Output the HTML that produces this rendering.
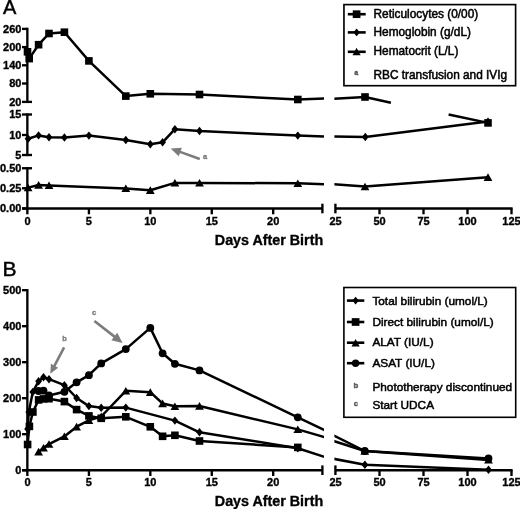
<!DOCTYPE html>
<html><head><meta charset="utf-8"><title>Figure</title>
<style>html,body{margin:0;padding:0;background:#fff}svg{display:block}svg text{font-family:"Liberation Sans",Arial,Helvetica,sans-serif}</style></head>
<body>
<svg width="520" height="509" viewBox="0 0 520 509">
<rect width="520" height="509" fill="#fff"/>
<defs><clipPath id="c1"><rect x="0" y="0" width="323.9" height="509"/></clipPath><clipPath id="c2"><rect x="334.4" y="0" width="190" height="509"/></clipPath><clipPath id="c3"><rect x="334.4" y="0" width="190" height="102.9"/></clipPath><clipPath id="c4"><rect x="334.4" y="113.9" width="190" height="100"/></clipPath><filter id="soft" x="0" y="0" width="520" height="509" filterUnits="userSpaceOnUse"><feGaussianBlur stdDeviation="0.4"/></filter></defs><g filter="url(#soft)">
<text x="2.90" y="13.85" font-size="20" font-weight="normal" text-anchor="start" fill="#000" stroke="#000" stroke-width="0.45">A</text>
<line x1="27.35" y1="27.70" x2="27.35" y2="103.00" stroke="#000" stroke-width="2.35"/>
<line x1="27.35" y1="113.40" x2="27.35" y2="156.10" stroke="#000" stroke-width="2.35"/>
<line x1="27.35" y1="167.10" x2="27.35" y2="209.60" stroke="#000" stroke-width="2.35"/>
<line x1="22.00" y1="28.90" x2="27.35" y2="28.90" stroke="#000" stroke-width="2.35"/>
<text x="21.40" y="32.70" font-size="11" font-weight="bold" text-anchor="end" fill="#000" stroke="#000" stroke-width="0.35">260</text>
<line x1="22.00" y1="47.10" x2="27.35" y2="47.10" stroke="#000" stroke-width="2.35"/>
<text x="21.40" y="50.90" font-size="11" font-weight="bold" text-anchor="end" fill="#000" stroke="#000" stroke-width="0.35">200</text>
<line x1="22.00" y1="65.30" x2="27.35" y2="65.30" stroke="#000" stroke-width="2.35"/>
<text x="21.40" y="69.10" font-size="11" font-weight="bold" text-anchor="end" fill="#000" stroke="#000" stroke-width="0.35">140</text>
<line x1="22.00" y1="83.50" x2="27.35" y2="83.50" stroke="#000" stroke-width="2.35"/>
<text x="21.40" y="87.30" font-size="11" font-weight="bold" text-anchor="end" fill="#000" stroke="#000" stroke-width="0.35">80</text>
<line x1="22.00" y1="101.90" x2="32.00" y2="101.90" stroke="#000" stroke-width="2.35"/>
<text x="21.40" y="105.70" font-size="11" font-weight="bold" text-anchor="end" fill="#000" stroke="#000" stroke-width="0.35">20</text>
<line x1="22.00" y1="114.50" x2="32.00" y2="114.50" stroke="#000" stroke-width="2.35"/>
<text x="21.40" y="118.30" font-size="11" font-weight="bold" text-anchor="end" fill="#000" stroke="#000" stroke-width="0.35">15</text>
<line x1="22.00" y1="135.00" x2="27.35" y2="135.00" stroke="#000" stroke-width="2.35"/>
<text x="21.40" y="138.80" font-size="11" font-weight="bold" text-anchor="end" fill="#000" stroke="#000" stroke-width="0.35">10</text>
<line x1="22.00" y1="155.00" x2="32.00" y2="155.00" stroke="#000" stroke-width="2.35"/>
<text x="21.40" y="158.80" font-size="11" font-weight="bold" text-anchor="end" fill="#000" stroke="#000" stroke-width="0.35">5</text>
<line x1="22.00" y1="168.25" x2="32.00" y2="168.25" stroke="#000" stroke-width="2.35"/>
<text x="21.40" y="172.05" font-size="11" font-weight="bold" text-anchor="end" fill="#000" stroke="#000" stroke-width="0.35">0.50</text>
<line x1="22.00" y1="188.25" x2="27.35" y2="188.25" stroke="#000" stroke-width="2.35"/>
<text x="21.40" y="192.05" font-size="11" font-weight="bold" text-anchor="end" fill="#000" stroke="#000" stroke-width="0.35">0.25</text>
<line x1="22.00" y1="208.50" x2="27.35" y2="208.50" stroke="#000" stroke-width="2.35"/>
<text x="21.40" y="212.30" font-size="11" font-weight="bold" text-anchor="end" fill="#000" stroke="#000" stroke-width="0.35">0.00</text>
<line x1="22.00" y1="208.50" x2="322.50" y2="208.50" stroke="#000" stroke-width="2.35"/><line x1="322.40" y1="203.70" x2="322.40" y2="213.30" stroke="#000" stroke-width="2.35"/><line x1="335.40" y1="203.70" x2="335.40" y2="213.30" stroke="#000" stroke-width="2.35"/><line x1="335.50" y1="208.50" x2="512.60" y2="208.50" stroke="#000" stroke-width="2.35"/><line x1="27.35" y1="208.50" x2="27.35" y2="214.30" stroke="#000" stroke-width="2.35"/><text x="27.50" y="224.90" font-size="11" font-weight="bold" text-anchor="middle" fill="#000" stroke="#000" stroke-width="0.35">0</text><line x1="88.92" y1="208.50" x2="88.92" y2="214.30" stroke="#000" stroke-width="2.35"/><text x="88.92" y="224.90" font-size="11" font-weight="bold" text-anchor="middle" fill="#000" stroke="#000" stroke-width="0.35">5</text><line x1="150.35" y1="208.50" x2="150.35" y2="214.30" stroke="#000" stroke-width="2.35"/><text x="150.35" y="224.90" font-size="11" font-weight="bold" text-anchor="middle" fill="#000" stroke="#000" stroke-width="0.35">10</text><line x1="211.78" y1="208.50" x2="211.78" y2="214.30" stroke="#000" stroke-width="2.35"/><text x="211.78" y="224.90" font-size="11" font-weight="bold" text-anchor="middle" fill="#000" stroke="#000" stroke-width="0.35">15</text><line x1="273.20" y1="208.50" x2="273.20" y2="214.30" stroke="#000" stroke-width="2.35"/><text x="273.20" y="224.90" font-size="11" font-weight="bold" text-anchor="middle" fill="#000" stroke="#000" stroke-width="0.35">20</text><text x="335.50" y="224.90" font-size="11" font-weight="bold" text-anchor="middle" fill="#000" stroke="#000" stroke-width="0.35">25</text><line x1="379.50" y1="208.50" x2="379.50" y2="214.30" stroke="#000" stroke-width="2.35"/><text x="379.50" y="224.90" font-size="11" font-weight="bold" text-anchor="middle" fill="#000" stroke="#000" stroke-width="0.35">50</text><line x1="423.50" y1="208.50" x2="423.50" y2="214.30" stroke="#000" stroke-width="2.35"/><text x="423.50" y="224.90" font-size="11" font-weight="bold" text-anchor="middle" fill="#000" stroke="#000" stroke-width="0.35">75</text><line x1="467.50" y1="208.50" x2="467.50" y2="214.30" stroke="#000" stroke-width="2.35"/><text x="467.50" y="224.90" font-size="11" font-weight="bold" text-anchor="middle" fill="#000" stroke="#000" stroke-width="0.35">100</text><line x1="511.50" y1="208.50" x2="511.50" y2="214.30" stroke="#000" stroke-width="2.35"/><text x="511.50" y="224.90" font-size="11" font-weight="bold" text-anchor="middle" fill="#000" stroke="#000" stroke-width="0.35">125</text><text x="269.00" y="244.50" font-size="14.3" font-weight="bold" text-anchor="middle" fill="#000" stroke="#000" stroke-width="0.35">Days After Birth</text>
<polyline clip-path="url(#c1)" fill="none" stroke="#000" stroke-width="2.5" stroke-linejoin="round" points="27.50,51.80 29.20,58.60 38.60,44.70 49.00,33.50 64.40,32.20 88.90,60.90 125.80,96.10 150.30,93.80 199.50,94.50 297.80,99.50 327.80,98.23"/>
<polyline clip-path="url(#c2)" fill="none" stroke="#000" stroke-width="2.5" stroke-linejoin="round" points="330.40,98.92 365.00,97.00 390.90,102.70"/>
<polyline fill="none" stroke="#000" stroke-width="2.5" stroke-linejoin="round" points="448.60,114.50 488.00,122.90"/>
<rect x="23.70" y="48.00" width="7.6" height="7.6"/>
<rect x="25.40" y="54.80" width="7.6" height="7.6"/>
<rect x="34.80" y="40.90" width="7.6" height="7.6"/>
<rect x="45.20" y="29.70" width="7.6" height="7.6"/>
<rect x="60.60" y="28.40" width="7.6" height="7.6"/>
<rect x="85.10" y="57.10" width="7.6" height="7.6"/>
<rect x="122.00" y="92.30" width="7.6" height="7.6"/>
<rect x="146.50" y="90.00" width="7.6" height="7.6"/>
<rect x="195.70" y="90.70" width="7.6" height="7.6"/>
<rect x="294.00" y="95.70" width="7.6" height="7.6"/>
<rect x="361.20" y="93.20" width="7.6" height="7.6"/>
<polyline clip-path="url(#c1)" fill="none" stroke="#000" stroke-width="2.5" stroke-linejoin="round" points="28.10,138.80 38.60,135.40 49.00,137.20 64.40,137.50 88.90,135.60 125.80,140.00 150.30,144.20 162.60,142.30 174.90,129.20 199.50,131.00 297.80,135.60 327.60,136.64"/>
<polyline clip-path="url(#c2)" fill="none" stroke="#000" stroke-width="2.5" stroke-linejoin="round" points="330.40,136.55 365.30,137.00 488.00,121.60"/>
<polygon points="28.10,134.60 31.50,138.80 28.10,143.00 24.70,138.80"/>
<polygon points="38.60,131.20 42.00,135.40 38.60,139.60 35.20,135.40"/>
<polygon points="49.00,133.00 52.40,137.20 49.00,141.40 45.60,137.20"/>
<polygon points="64.40,133.30 67.80,137.50 64.40,141.70 61.00,137.50"/>
<polygon points="88.90,131.40 92.30,135.60 88.90,139.80 85.50,135.60"/>
<polygon points="125.80,135.80 129.20,140.00 125.80,144.20 122.40,140.00"/>
<polygon points="150.30,140.00 153.70,144.20 150.30,148.40 146.90,144.20"/>
<polygon points="162.60,138.10 166.00,142.30 162.60,146.50 159.20,142.30"/>
<polygon points="174.90,125.00 178.30,129.20 174.90,133.40 171.50,129.20"/>
<polygon points="199.50,126.80 202.90,131.00 199.50,135.20 196.10,131.00"/>
<polygon points="297.80,131.40 301.20,135.60 297.80,139.80 294.40,135.60"/>
<polygon points="365.30,132.80 368.70,137.00 365.30,141.20 361.90,137.00"/>
<polygon points="488.00,117.40 491.40,121.60 488.00,125.80 484.60,121.60"/>
<rect x="484.20" y="119.10" width="7.6" height="7.6"/>
<polyline clip-path="url(#c1)" fill="none" stroke="#000" stroke-width="2.5" stroke-linejoin="round" points="28.10,187.60 38.60,185.00 49.00,185.40 125.80,188.40 150.30,190.20 174.90,182.90 199.50,182.90 297.80,183.30 327.60,184.34"/>
<polyline clip-path="url(#c2)" fill="none" stroke="#000" stroke-width="2.5" stroke-linejoin="round" points="330.40,183.89 365.00,186.60 488.00,177.20"/>
<polygon points="28.10,183.70 32.50,191.30 23.70,191.30"/>
<polygon points="38.60,181.10 43.00,188.70 34.20,188.70"/>
<polygon points="49.00,181.50 53.40,189.10 44.60,189.10"/>
<polygon points="125.80,184.50 130.20,192.10 121.40,192.10"/>
<polygon points="150.30,186.30 154.70,193.90 145.90,193.90"/>
<polygon points="174.90,179.00 179.30,186.60 170.50,186.60"/>
<polygon points="199.50,179.00 203.90,186.60 195.10,186.60"/>
<polygon points="297.80,179.40 302.20,187.00 293.40,187.00"/>
<polygon points="365.00,182.70 369.40,190.30 360.60,190.30"/>
<polygon points="488.00,173.30 492.40,180.90 483.60,180.90"/>
<line x1="199.80" y1="159.00" x2="179.35" y2="151.65" stroke="#7c7c7c" stroke-width="2.6"/><polygon fill="#7c7c7c" points="170.60,148.50 181.85,147.66 178.74,156.31"/>
<text x="205.20" y="159.20" font-size="7.5" font-weight="bold" text-anchor="middle" fill="#7c7c7c" stroke="#7c7c7c" stroke-width="0.35">a</text>
<rect x="343.95" y="4.6" width="171.65" height="81.1" fill="#fff" stroke="#000" stroke-width="1.65"/>
<line x1="347.80" y1="14.20" x2="365.70" y2="14.20" stroke="#000" stroke-width="2.6"/><rect x="352.75" y="10.35" width="7.7" height="7.7"/>
<line x1="347.80" y1="32.40" x2="365.70" y2="32.40" stroke="#000" stroke-width="2.6"/><polygon points="356.60,28.60 359.80,32.40 356.60,36.20 353.40,32.40"/>
<line x1="347.80" y1="51.80" x2="365.70" y2="51.80" stroke="#000" stroke-width="2.6"/><polygon points="356.60,47.80 360.70,55.30 352.50,55.30"/>
<text x="356.40" y="74.90" font-size="6.5" font-weight="bold" text-anchor="middle" fill="#5a5a5a" stroke="#5a5a5a" stroke-width="0.5">a</text>
<text x="373.50" y="17.90" font-size="11.85" font-weight="normal" text-anchor="start" fill="#000" stroke="#000" stroke-width="0.5">Reticulocytes (0/00)</text>
<text x="373.50" y="36.10" font-size="11.85" font-weight="normal" text-anchor="start" fill="#000" stroke="#000" stroke-width="0.5">Hemoglobin (g/dL)</text>
<text x="373.50" y="55.30" font-size="11.85" font-weight="normal" text-anchor="start" fill="#000" stroke="#000" stroke-width="0.5">Hematocrit (L/L)</text>
<text x="373.50" y="78.50" font-size="11.85" font-weight="normal" text-anchor="start" fill="#000" stroke="#000" stroke-width="0.5">RBC transfusion and IVIg</text>
<text x="2.40" y="275.70" font-size="21" font-weight="normal" text-anchor="start" fill="#000" stroke="#000" stroke-width="0.45">B</text>
<line x1="27.35" y1="289.05" x2="27.35" y2="471.35" stroke="#000" stroke-width="2.35"/>
<line x1="22.00" y1="470.20" x2="27.35" y2="470.20" stroke="#000" stroke-width="2.35"/>
<text x="21.40" y="474.00" font-size="11" font-weight="bold" text-anchor="end" fill="#000" stroke="#000" stroke-width="0.35">0</text>
<line x1="22.00" y1="434.20" x2="27.35" y2="434.20" stroke="#000" stroke-width="2.35"/>
<text x="21.40" y="438.00" font-size="11" font-weight="bold" text-anchor="end" fill="#000" stroke="#000" stroke-width="0.35">100</text>
<line x1="22.00" y1="398.20" x2="27.35" y2="398.20" stroke="#000" stroke-width="2.35"/>
<text x="21.40" y="402.00" font-size="11" font-weight="bold" text-anchor="end" fill="#000" stroke="#000" stroke-width="0.35">200</text>
<line x1="22.00" y1="362.20" x2="27.35" y2="362.20" stroke="#000" stroke-width="2.35"/>
<text x="21.40" y="366.00" font-size="11" font-weight="bold" text-anchor="end" fill="#000" stroke="#000" stroke-width="0.35">300</text>
<line x1="22.00" y1="326.20" x2="27.35" y2="326.20" stroke="#000" stroke-width="2.35"/>
<text x="21.40" y="330.00" font-size="11" font-weight="bold" text-anchor="end" fill="#000" stroke="#000" stroke-width="0.35">400</text>
<line x1="22.00" y1="290.20" x2="27.35" y2="290.20" stroke="#000" stroke-width="2.35"/>
<text x="21.40" y="294.00" font-size="11" font-weight="bold" text-anchor="end" fill="#000" stroke="#000" stroke-width="0.35">500</text>
<line x1="22.00" y1="470.20" x2="322.50" y2="470.20" stroke="#000" stroke-width="2.35"/><line x1="322.40" y1="465.40" x2="322.40" y2="475.00" stroke="#000" stroke-width="2.35"/><line x1="335.40" y1="465.40" x2="335.40" y2="475.00" stroke="#000" stroke-width="2.35"/><line x1="335.50" y1="470.20" x2="512.60" y2="470.20" stroke="#000" stroke-width="2.35"/><line x1="27.35" y1="470.20" x2="27.35" y2="476.00" stroke="#000" stroke-width="2.35"/><text x="27.50" y="486.20" font-size="11" font-weight="bold" text-anchor="middle" fill="#000" stroke="#000" stroke-width="0.35">0</text><line x1="88.92" y1="470.20" x2="88.92" y2="476.00" stroke="#000" stroke-width="2.35"/><text x="88.92" y="486.20" font-size="11" font-weight="bold" text-anchor="middle" fill="#000" stroke="#000" stroke-width="0.35">5</text><line x1="150.35" y1="470.20" x2="150.35" y2="476.00" stroke="#000" stroke-width="2.35"/><text x="150.35" y="486.20" font-size="11" font-weight="bold" text-anchor="middle" fill="#000" stroke="#000" stroke-width="0.35">10</text><line x1="211.78" y1="470.20" x2="211.78" y2="476.00" stroke="#000" stroke-width="2.35"/><text x="211.78" y="486.20" font-size="11" font-weight="bold" text-anchor="middle" fill="#000" stroke="#000" stroke-width="0.35">15</text><line x1="273.20" y1="470.20" x2="273.20" y2="476.00" stroke="#000" stroke-width="2.35"/><text x="273.20" y="486.20" font-size="11" font-weight="bold" text-anchor="middle" fill="#000" stroke="#000" stroke-width="0.35">20</text><text x="335.50" y="486.20" font-size="11" font-weight="bold" text-anchor="middle" fill="#000" stroke="#000" stroke-width="0.35">25</text><line x1="379.50" y1="470.20" x2="379.50" y2="476.00" stroke="#000" stroke-width="2.35"/><text x="379.50" y="486.20" font-size="11" font-weight="bold" text-anchor="middle" fill="#000" stroke="#000" stroke-width="0.35">50</text><line x1="423.50" y1="470.20" x2="423.50" y2="476.00" stroke="#000" stroke-width="2.35"/><text x="423.50" y="486.20" font-size="11" font-weight="bold" text-anchor="middle" fill="#000" stroke="#000" stroke-width="0.35">75</text><line x1="467.50" y1="470.20" x2="467.50" y2="476.00" stroke="#000" stroke-width="2.35"/><text x="467.50" y="486.20" font-size="11" font-weight="bold" text-anchor="middle" fill="#000" stroke="#000" stroke-width="0.35">100</text><line x1="511.50" y1="470.20" x2="511.50" y2="476.00" stroke="#000" stroke-width="2.35"/><text x="511.50" y="486.20" font-size="11" font-weight="bold" text-anchor="middle" fill="#000" stroke="#000" stroke-width="0.35">125</text><text x="269.00" y="505.80" font-size="14.3" font-weight="bold" text-anchor="middle" fill="#000" stroke="#000" stroke-width="0.35">Days After Birth</text>
<polyline clip-path="url(#c1)" fill="none" stroke="#000" stroke-width="2.5" stroke-linejoin="round" points="27.60,429.00 28.80,412.00 32.80,392.00 38.60,381.20 43.50,377.30 49.00,379.20 64.40,385.20 76.60,398.00 88.90,406.10 101.20,407.70 125.80,407.60 174.90,420.60 199.50,432.30 297.80,448.30 327.80,457.99"/>
<polyline clip-path="url(#c2)" fill="none" stroke="#000" stroke-width="2.5" stroke-linejoin="round" points="330.60,458.23 364.90,464.80 488.50,469.70"/>
<polyline fill="none" stroke="#000" stroke-width="2.5" stroke-linejoin="round" points="27.60,444.50 29.40,426.40 32.90,412.00 38.60,399.90 43.50,398.90 49.00,398.70 64.40,401.60 76.60,409.60 88.90,415.90 101.20,418.30 125.80,416.80 150.30,426.80 162.60,436.30 174.90,435.30 199.50,441.00 297.80,447.40"/>
<polyline clip-path="url(#c1)" fill="none" stroke="#000" stroke-width="2.5" stroke-linejoin="round" points="38.60,451.70 43.50,447.90 49.00,444.10 64.40,436.40 76.60,426.70 88.90,420.30 101.20,416.50 125.80,390.80 150.30,392.20 162.60,403.50 174.90,406.30 199.50,406.00 297.80,429.40 327.80,438.05"/>
<polyline clip-path="url(#c2)" fill="none" stroke="#000" stroke-width="2.5" stroke-linejoin="round" points="330.60,440.02 364.80,451.00 488.50,459.90"/>
<polyline clip-path="url(#c1)" fill="none" stroke="#000" stroke-width="2.5" stroke-linejoin="round" points="38.60,391.00 43.50,390.70 49.00,395.50 64.40,391.80 76.60,382.30 88.90,375.20 101.20,363.40 125.80,349.10 150.30,327.90 162.60,353.30 174.90,363.80 199.50,370.40 297.80,417.30 327.80,431.72"/>
<polyline clip-path="url(#c2)" fill="none" stroke="#000" stroke-width="2.5" stroke-linejoin="round" points="330.60,434.01 364.80,451.00 488.50,458.50"/>
<polygon points="27.60,424.80 31.00,429.00 27.60,433.20 24.20,429.00"/>
<polygon points="28.80,407.80 32.20,412.00 28.80,416.20 25.40,412.00"/>
<polygon points="32.80,387.80 36.20,392.00 32.80,396.20 29.40,392.00"/>
<polygon points="38.60,377.00 42.00,381.20 38.60,385.40 35.20,381.20"/>
<polygon points="43.50,373.10 46.90,377.30 43.50,381.50 40.10,377.30"/>
<polygon points="49.00,375.00 52.40,379.20 49.00,383.40 45.60,379.20"/>
<polygon points="64.40,381.00 67.80,385.20 64.40,389.40 61.00,385.20"/>
<polygon points="76.60,393.80 80.00,398.00 76.60,402.20 73.20,398.00"/>
<polygon points="88.90,401.90 92.30,406.10 88.90,410.30 85.50,406.10"/>
<polygon points="101.20,403.50 104.60,407.70 101.20,411.90 97.80,407.70"/>
<polygon points="125.80,403.40 129.20,407.60 125.80,411.80 122.40,407.60"/>
<polygon points="174.90,416.40 178.30,420.60 174.90,424.80 171.50,420.60"/>
<polygon points="199.50,428.10 202.90,432.30 199.50,436.50 196.10,432.30"/>
<polygon points="297.80,444.10 301.20,448.30 297.80,452.50 294.40,448.30"/>
<polygon points="364.90,460.60 368.30,464.80 364.90,469.00 361.50,464.80"/>
<polygon points="488.50,465.50 491.90,469.70 488.50,473.90 485.10,469.70"/>
<rect x="23.80" y="440.70" width="7.6" height="7.6"/>
<rect x="25.60" y="422.60" width="7.6" height="7.6"/>
<rect x="29.10" y="408.20" width="7.6" height="7.6"/>
<rect x="34.80" y="396.10" width="7.6" height="7.6"/>
<rect x="39.70" y="395.10" width="7.6" height="7.6"/>
<rect x="45.20" y="394.90" width="7.6" height="7.6"/>
<rect x="60.60" y="397.80" width="7.6" height="7.6"/>
<rect x="72.80" y="405.80" width="7.6" height="7.6"/>
<rect x="85.10" y="412.10" width="7.6" height="7.6"/>
<rect x="97.40" y="414.50" width="7.6" height="7.6"/>
<rect x="122.00" y="413.00" width="7.6" height="7.6"/>
<rect x="146.50" y="423.00" width="7.6" height="7.6"/>
<rect x="158.80" y="432.50" width="7.6" height="7.6"/>
<rect x="171.10" y="431.50" width="7.6" height="7.6"/>
<rect x="195.70" y="437.20" width="7.6" height="7.6"/>
<rect x="294.00" y="443.60" width="7.6" height="7.6"/>
<polygon points="38.60,447.80 43.00,455.40 34.20,455.40"/>
<polygon points="43.50,444.00 47.90,451.60 39.10,451.60"/>
<polygon points="49.00,440.20 53.40,447.80 44.60,447.80"/>
<polygon points="64.40,432.50 68.80,440.10 60.00,440.10"/>
<polygon points="76.60,422.80 81.00,430.40 72.20,430.40"/>
<polygon points="88.90,416.40 93.30,424.00 84.50,424.00"/>
<polygon points="101.20,412.60 105.60,420.20 96.80,420.20"/>
<polygon points="125.80,386.90 130.20,394.50 121.40,394.50"/>
<polygon points="150.30,388.30 154.70,395.90 145.90,395.90"/>
<polygon points="162.60,399.60 167.00,407.20 158.20,407.20"/>
<polygon points="174.90,402.40 179.30,410.00 170.50,410.00"/>
<polygon points="199.50,402.10 203.90,409.70 195.10,409.70"/>
<polygon points="297.80,425.50 302.20,433.10 293.40,433.10"/>
<polygon points="364.80,447.10 369.20,454.70 360.40,454.70"/>
<polygon points="488.50,456.00 492.90,463.60 484.10,463.60"/>
<circle cx="38.60" cy="391.00" r="3.9"/>
<circle cx="43.50" cy="390.70" r="3.9"/>
<circle cx="49.00" cy="395.50" r="3.9"/>
<circle cx="64.40" cy="391.80" r="3.9"/>
<circle cx="76.60" cy="382.30" r="3.9"/>
<circle cx="88.90" cy="375.20" r="3.9"/>
<circle cx="101.20" cy="363.40" r="3.9"/>
<circle cx="125.80" cy="349.10" r="3.9"/>
<circle cx="150.30" cy="327.90" r="3.9"/>
<circle cx="162.60" cy="353.30" r="3.9"/>
<circle cx="174.90" cy="363.80" r="3.9"/>
<circle cx="199.50" cy="370.40" r="3.9"/>
<circle cx="297.80" cy="417.30" r="3.9"/>
<circle cx="364.80" cy="451.00" r="3.9"/>
<circle cx="488.50" cy="458.50" r="3.9"/>
<line x1="64.10" y1="347.40" x2="54.02" y2="366.62" stroke="#7c7c7c" stroke-width="2.6"/><polygon fill="#7c7c7c" points="50.30,373.70 50.85,363.83 58.11,367.64"/>
<text x="64.50" y="341.40" font-size="7.5" font-weight="bold" text-anchor="middle" fill="#7c7c7c" stroke="#7c7c7c" stroke-width="0.35">b</text>
<line x1="94.40" y1="320.90" x2="115.12" y2="337.14" stroke="#7c7c7c" stroke-width="2.6"/><polygon fill="#7c7c7c" points="122.60,343.00 111.41,340.26 117.27,332.78"/>
<text x="94.00" y="314.60" font-size="7.5" font-weight="bold" text-anchor="middle" fill="#7c7c7c" stroke="#7c7c7c" stroke-width="0.35">c</text>
<rect x="343.9" y="287.5" width="171.8" height="129.8" fill="#fff" stroke="#000" stroke-width="1.6"/>
<line x1="346.90" y1="300.60" x2="364.30" y2="300.60" stroke="#000" stroke-width="2.6"/><polygon points="355.60,296.80 358.80,300.60 355.60,304.40 352.40,300.60"/>
<line x1="346.90" y1="322.00" x2="364.30" y2="322.00" stroke="#000" stroke-width="2.6"/><rect x="351.75" y="318.15" width="7.7" height="7.7"/>
<line x1="346.90" y1="342.70" x2="364.30" y2="342.70" stroke="#000" stroke-width="2.6"/><polygon points="355.60,338.90 359.70,346.40 351.50,346.40"/>
<line x1="346.90" y1="363.20" x2="364.30" y2="363.20" stroke="#000" stroke-width="2.6"/><circle cx="355.60" cy="363.20" r="3.7"/>
<text x="356.00" y="387.80" font-size="7.8" font-weight="bold" text-anchor="middle" fill="#5a5a5a" stroke="#5a5a5a" stroke-width="0.4">b</text>
<text x="356.00" y="405.90" font-size="7.8" font-weight="bold" text-anchor="middle" fill="#5a5a5a" stroke="#5a5a5a" stroke-width="0.4">c</text>
<text x="372.40" y="304.70" font-size="11.8" font-weight="normal" text-anchor="start" fill="#000" stroke="#000" stroke-width="0.5">Total bilirubin (umol/L)</text>
<text x="372.40" y="325.80" font-size="11.8" font-weight="normal" text-anchor="start" fill="#000" stroke="#000" stroke-width="0.5">Direct bilirubin (umol/L)</text>
<text x="372.40" y="346.20" font-size="11.8" font-weight="normal" text-anchor="start" fill="#000" stroke="#000" stroke-width="0.5">ALAT (IU/L)</text>
<text x="372.40" y="367.00" font-size="11.8" font-weight="normal" text-anchor="start" fill="#000" stroke="#000" stroke-width="0.5">ASAT (IU/L)</text>
<text x="372.40" y="391.10" font-size="11.8" font-weight="normal" text-anchor="start" fill="#000" stroke="#000" stroke-width="0.5">Phototherapy discontinued</text>
<text x="372.40" y="409.40" font-size="11.8" font-weight="normal" text-anchor="start" fill="#000" stroke="#000" stroke-width="0.5">Start UDCA</text>
</g></svg>
</body></html>
